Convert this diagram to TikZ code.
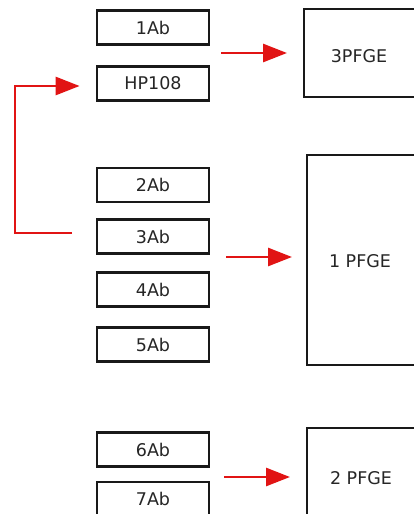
\documentclass[tikz,border=0pt]{standalone}
\usepackage{fontspec}
\setmainfont{DejaVu Sans}
\usetikzlibrary{arrows.meta}
\definecolor{arrred}{RGB}{225,20,20}
\begin{document}
\begin{tikzpicture}[x=1pt,y=-1pt,
  labelfont/.style={font=\fontsize{17.5}{20}\selectfont, text=black!85},
  smallbox/.style={draw=black!90, line width=2.8pt, minimum width=112pt, minimum height=34pt, inner sep=0pt, labelfont},
  bigbox/.style={draw=black!90, line width=2pt, inner sep=0pt},
  redarrow/.style={draw=arrred, line width=2.8pt, -{Triangle[length=24pt,width=18pt]}}]
\useasboundingbox (0,0) rectangle (414,514);
\fill[white] (0,0) rectangle (414,514);
% small boxes
\node[smallbox] (ab1) at (153,27.5) {1Ab};
\node[smallbox] (hp)  at (153,83.5) {HP108};
\node[smallbox] (ab2) at (153,185) {2Ab};
\node[smallbox] (ab3) at (153,236.5) {3Ab};
\node[smallbox] (ab4) at (153,289.5) {4Ab};
\node[smallbox] (ab5) at (153,344.5) {5Ab};
\node[smallbox] (ab6) at (153,449.5) {6Ab};
\node[smallbox] (ab7) at (153,499) {7Ab};
% big boxes (right edge lies beyond the page)
\node[bigbox, minimum width=120pt, minimum height=88pt] (pf3) at (364,53) {};
\node[bigbox, minimum width=118pt, minimum height=210pt] (pf1) at (366,260) {};
\node[bigbox, minimum width=118pt, minimum height=98pt] (pf2) at (366,477) {};
\node[labelfont] (t3) at (359,56) {3PFGE};
\node[labelfont] (t1) at (360,261) {1 PFGE};
\node[labelfont] (t2) at (361,478) {2 PFGE};
% arrows
\draw[redarrow, shorten <=11pt, shorten >=16pt] (ab1.east |- pf3.west) -- (pf3.west);
\draw[redarrow, shorten <=16pt, shorten >=14pt] (ab3.east |- 0,257) -- (pf1.west |- 0,257);
\draw[redarrow, shorten <=14pt, shorten >=16pt] (ab6.east |- pf2.west) -- (pf2.west);
% bracket from 3Ab back to HP108
\coordinate (bs) at (72,233);
\coordinate (bc) at (15,233);
\draw[redarrow, shorten >=16pt] (bs) -- (bc) |- (hp.west |- 0,86);
\end{tikzpicture}
\end{document}
